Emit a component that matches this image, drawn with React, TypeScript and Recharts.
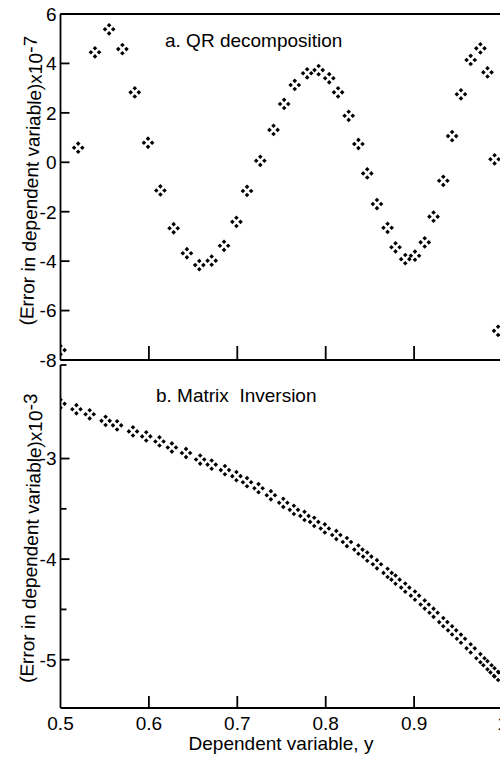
import React from 'react';
import { ScatterChart, Scatter, XAxis, YAxis, ReferenceLine, Customized } from 'recharts';

// ---- data ----
const xTop = [
  0.500, 0.520, 0.539, 0.555, 0.570, 0.584, 0.599, 0.613, 0.628, 0.643,
  0.657, 0.671, 0.685, 0.699, 0.711, 0.726, 0.741, 0.753, 0.765, 0.779,
  0.792, 0.804, 0.814, 0.826, 0.837, 0.847, 0.858, 0.870, 0.879, 0.890,
  0.901, 0.912, 0.922, 0.933, 0.943, 0.953, 0.964, 0.975, 0.983, 0.991, 0.995,
];
const yTop = [
  -7.60, 0.59, 4.45, 5.38, 4.58, 2.83, 0.79, -1.14, -2.67, -3.68,
  -4.16, -3.98, -3.38, -2.41, -1.16, 0.06, 1.31, 2.36, 3.13, 3.60,
  3.73, 3.40, 2.83, 1.88, 0.74, -0.45, -1.69, -2.65, -3.44, -3.92,
  -3.78, -3.24, -2.20, -0.75, 1.06, 2.75, 4.14, 4.61, 3.64, 0.12, -6.82,
];
const xBottom = [
  0.500, 0.518, 0.533, 0.551, 0.564, 0.582, 0.597, 0.612, 0.626, 0.642,
  0.658, 0.671, 0.686, 0.699, 0.711, 0.724, 0.738, 0.752, 0.764, 0.776,
  0.787, 0.799, 0.812, 0.824, 0.837, 0.847, 0.858, 0.870, 0.879, 0.890,
  0.901, 0.912, 0.922, 0.933, 0.943, 0.953, 0.964, 0.975, 0.983, 0.991, 0.995,
];
const yBottom = [
  -2.455, -2.51, -2.56, -2.625, -2.67, -2.73, -2.78, -2.83, -2.89, -2.945,
  -3.01, -3.06, -3.115, -3.175, -3.235, -3.295, -3.365, -3.44, -3.51, -3.57,
  -3.63, -3.695, -3.76, -3.83, -3.905, -3.975, -4.051, -4.137, -4.204, -4.283,
  -4.363, -4.451, -4.533, -4.626, -4.708, -4.791, -4.887, -4.985, -5.055, -5.126, -5.161,
];

const xTicks = [0.5, 0.6, 0.7, 0.8, 0.9, 1.0];
const xTickLabels = ['0.5', '0.6', '0.7', '0.8', '0.9', '1'];
const yTicksTop = [-8, -6, -4, -2, 0, 2, 4, 6];
const yMajorBottom = [-5, -4, -3];
const yMinorBottom = [-4.5, -3.5];
const topDomain = [-8, 6];
const bottomDomain = [-5.48, -2.07];
const xDomain = [0.5, 1.0];

const topTitle = 'a. QR decomposition';
const bottomTitle = 'b. Matrix  Inversion';
const yTitle = '(Error in dependent variable)x10';
const topExp = '-7';
const bottomExp = '-3';
const xTitle = 'Dependent variable, y';

const topData = xTop.map((x, i) => ({ x, y: yTop[i] }));
const bottomData = xBottom.map((x, i) => ({ x, y: yBottom[i] }));

const FONT = '"Liberation Sans", Arial, Helvetica, sans-serif';
const FS = 19;
const SW = 1.8;

const Quad = (props: any) => {
  const { cx, cy } = props;
  if (cx == null || cy == null || isNaN(cx) || isNaN(cy)) return null;
  const d = 4.1;
  const s = 2.3;
  const offs = [[0, -d], [d, 0], [0, d], [-d, 0]];
  return (
    <g>
      {offs.map(([dx, dy], i) => {
        const px = cx + dx;
        const py = cy + dy;
        return (
          <polygon
            key={i}
            points={`${px},${py - s} ${px + s},${py} ${px},${py + s} ${px - s},${py}`}
            fill="#000"
          />
        );
      })}
    </g>
  );
};

const makeYTick = (majors: number[]) => (props: any) => {
  const { x, y, payload } = props;
  const v = payload.value;
  const isMajor = majors.includes(v);
  const len = isMajor ? 9 : 6;
  return (
    <g>
      <line x1={x} x2={x + len} y1={y} y2={y} stroke="#000" strokeWidth={SW} />
      {isMajor && (
        <text x={x - 4} y={y} dy="0.36em" textAnchor="end" fontFamily={FONT} fontSize={FS} fill="#000">
          {String(v)}
        </text>
      )}
    </g>
  );
};

const makeXTick = (showLabels: boolean, len: number) => (props: any) => {
  const { x, y, payload } = props;
  const idx = xTicks.indexOf(payload.value);
  return (
    <g>
      {idx > 0 && <line x1={x} x2={x} y1={y} y2={y - len} stroke="#000" strokeWidth={SW} />}
      {showLabels && (
        <text x={x} y={y + 22} textAnchor="middle" fontFamily={FONT} fontSize={FS} fill="#000">
          {xTickLabels[idx]}
        </text>
      )}
    </g>
  );
};

const RotLabel = ({ cx, cy, exp }: { cx: number; cy: number; exp: string }) => (
  <text
    x={cx}
    y={cy}
    transform={`rotate(-88, ${cx}, ${cy})`}
    textAnchor="middle"
    fontFamily={FONT}
    fontSize={FS}
    fill="#000"
  >
    {yTitle}
    <tspan dy={-6}>{exp}</tspan>
  </text>
);

const TopAnno = () => (
  <g>
    <text x={165} y={47} fontFamily={FONT} fontSize={FS} fill="#000">{topTitle}</text>
    <RotLabel cx={38} cy={181} exp={topExp} />
  </g>
);

const BottomAnno = () => (
  <g>
    <text x={156} y={39.5} fontFamily={FONT} fontSize={FS} fill="#000" style={{ whiteSpace: 'pre' }}>
      {bottomTitle}
    </text>
    <RotLabel cx={38} cy={176.5} exp={bottomExp} />
    <text x={281} y={388} textAnchor="middle" fontFamily={FONT} fontSize={FS} fill="#000">{xTitle}</text>
  </g>
);

export default function App() {
  return (
    <div
      style={{
        position: 'absolute',
        left: 0,
        top: 0,
        width: 500,
        height: 757,
        overflow: 'hidden',
        background: '#fff',
      }}
    >
      <div style={{ position: 'absolute', left: 0, top: 0 }}>
        <ScatterChart width={520} height={380} margin={{ top: 14, right: 17.5, bottom: 0, left: 0 }}>
          <XAxis
            type="number"
            dataKey="x"
            domain={xDomain}
            ticks={xTicks}
            height={20}
            tickSize={0}
            tickMargin={0}
            tickLine={false}
            axisLine={{ stroke: '#000', strokeWidth: SW }}
            tick={makeXTick(false, 14)}
            interval={0}
            allowDataOverflow
          />
          <YAxis
            type="number"
            dataKey="y"
            domain={topDomain}
            ticks={yTicksTop}
            width={60.5}
            tickSize={0}
            tickMargin={0}
            tickLine={false}
            axisLine={{ stroke: '#000', strokeWidth: SW }}
            tick={makeYTick(yTicksTop)}
            interval={0}
            allowDataOverflow
          />
          <ReferenceLine y={6} stroke="#000" strokeWidth={SW} />
          <Scatter data={topData} shape={Quad} isAnimationActive={false} />
          <Customized component={<TopAnno />} />
        </ScatterChart>
      </div>
      <div style={{ position: 'absolute', left: 0, top: 362 }}>
        <ScatterChart width={520} height={395} margin={{ top: 3, right: 17.5, bottom: 0, left: 0 }}>
          <XAxis
            type="number"
            dataKey="x"
            domain={xDomain}
            ticks={xTicks}
            height={49}
            tickSize={0}
            tickMargin={0}
            tickLine={false}
            axisLine={{ stroke: '#000', strokeWidth: SW }}
            tick={makeXTick(true, 12)}
            interval={0}
            allowDataOverflow
          />
          <YAxis
            type="number"
            dataKey="y"
            domain={bottomDomain}
            ticks={[...yMajorBottom, ...yMinorBottom, bottomDomain[1]]}
            width={60.5}
            tickSize={0}
            tickMargin={0}
            tickLine={false}
            axisLine={{ stroke: '#000', strokeWidth: SW }}
            tick={makeYTick(yMajorBottom)}
            interval={0}
            allowDataOverflow
          />
          <Scatter data={bottomData} shape={Quad} isAnimationActive={false} />
          <Customized component={<BottomAnno />} />
        </ScatterChart>
      </div>
    </div>
  );
}
